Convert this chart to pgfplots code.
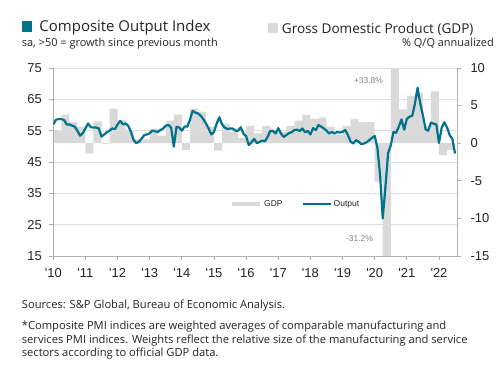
\documentclass[border=0pt]{standalone}
\usepackage{pgfplots}
\pgfplotsset{compat=1.18}
\usepackage{fontspec}
\setmainfont{Liberation Sans}
\newfontfamily\arialf{Liberation Sans}
\newfontfamily\hfont{Open Sans}
\definecolor{teal1}{RGB}{0,114,138}
\definecolor{bargray}{RGB}{217,217,217}
\definecolor{gridgray}{RGB}{222,222,222}
\definecolor{axgray}{RGB}{175,175,175}
\definecolor{txt}{RGB}{35,35,35}
\definecolor{anngray}{RGB}{130,130,130}
\begin{document}
\begin{tikzpicture}
\pgfplotsset{
  common/.style={
    at={(0pt,0pt)}, anchor=south west, width=403.7bp, height=188bp, scale only axis,
    xmin=0, xmax=150.73,
    tick align=outside, major tick length=4bp,
    every tick/.style={axgray, line width=0.8bp},
    axis line style={axgray, line width=0.8bp},
    tick label style={font=\arialf\fontsize{13}{15}\selectfont, text=txt},
    /pgf/number format/assume math mode=true,
  }
}
\begin{scope}[x=1bp,y=1bp,shift={(-53.3bp,-114bp)}]
\useasboundingbox (0,0) rectangle (500,370);
\end{scope}
% GDP (right axis)
\begin{axis}[common, ymin=-15, ymax=10, ytick={-15,-10,...,10},
  axis y line*=right, axis x line=none, xtick=\empty,
  yticklabel style={xshift=6bp}]
\addplot[ybar, bar width=3, bar shift=0pt, fill=bargray, draw=none] coordinates {
(1.5,1.6) (4.5,3.8) (7.5,2.8) (10.5,2.2)
(13.5,-1.4) (16.5,2.9) (19.5,-0.1) (22.5,4.6)
(25.5,3.1) (28.5,1.7) (31.5,0.5) (34.5,0.5)
(37.5,1.9) (40.5,1.0) (43.5,3.0) (46.5,3.8)
(49.5,-0.9) (52.5,4.6) (55.5,4.2) (58.5,2.2)
(61.5,-1.0) (64.5,2.6) (67.5,1.5) (70.5,0.7)
(73.5,2.3) (76.5,1.3) (79.5,2.3) (82.5,1.8)
(85.5,1.5) (88.5,2.3) (91.5,3.0) (94.5,3.8)
(97.5,3.2) (100.5,3.4) (103.5,2.2) (106.5,1.1)
(109.5,2.3) (112.5,3.2) (115.5,2.8) (118.5,2.8)
(121.5,-5.1) (124.5,-31.2) (127.5,33.8) (130.5,4.5)
(133.5,6.3) (136.5,6.7) (139.5,2.3) (142.5,6.9)
(145.5,-1.6) (148.5,-0.9)
};
\end{axis}
% PMI (left axis)
\begin{axis}[common, ymin=15, ymax=75, ytick={15,25,...,75},
  axis y line*=left, axis x line*=bottom,
  yticklabel style={xshift=-4bp},
  xticklabel style={yshift=-5bp},
  ymajorgrids, grid style={gridgray, line width=0.8bp},
  xtick={0,12,...,144},
  xticklabels={'10,'11,'12,'13,'14,'15,'16,'17,'18,'19,'20,'21,'22},
  legend columns=2,
  legend style={at={(0.4377,0.2766)}, anchor=west, draw=none, fill=none, inner sep=0pt,
    font=\arialf\fontsize{8.5}{10}\selectfont, text=txt,
    /tikz/every even column/.append style={column sep=17bp}},
  legend image code/.code={\draw[#1] (0bp,0bp) -- (28bp,0bp);},
]
\addlegendimage{line width=4bp, bargray}
\addlegendentry{GDP}
\addplot[teal1, line width=2.2bp, line join=round] coordinates {
(0,57.0) (1,58.5) (2,58.7) (3,58.7) (4,58.4) (5,57.0) (6,57.0) (7,56.6) (8,56.3) (9,55.0) (10,53.4) (11,54.2)
(12,55.7) (13,57.3) (14,56.1) (15,56.0) (16,56.0) (17,55.7) (18,53.1) (19,53.8) (20,54.5) (21,55.0) (22,55.7) (23,55.5)
(24,57.0) (25,58.1) (26,57.0) (27,57.3) (28,56.5) (29,54.6) (30,52.0) (31,51.0) (32,51.5) (33,52.5) (34,53.6) (35,53.8)
(36,54.2) (37,55.0) (38,54.8) (39,54.6) (40,55.2) (41,55.7) (42,56.6) (43,56.8) (44,56.0) (45,49.9) (46,56.2) (47,56.0)
(48,55.0) (49,56.3) (50,56.3) (51,58.4) (52,61.3) (53,60.8) (54,60.5) (55,59.8) (56,58.7) (57,57.3) (58,55.7) (59,53.8)
(60,54.6) (61,57.3) (62,59.3) (63,57.0) (64,56.0) (65,55.5) (66,55.7) (67,55.7) (68,55.0) (69,55.0) (70,56.1) (71,54.0)
(72,53.2) (73,50.4) (74,51.3) (75,52.4) (76,51.0) (77,51.4) (78,51.8) (79,51.6) (80,53.0) (81,54.9) (82,54.9) (83,54.1)
(84,55.8) (85,54.1) (86,53.0) (87,53.6) (88,54.2) (89,54.5) (90,55.2) (91,55.3) (92,54.9) (93,55.7) (94,54.5) (95,54.9)
(96,53.8) (97,55.8) (98,55.2) (99,56.8) (100,56.3) (101,55.7) (102,55.0) (103,54.1) (104,54.6) (105,54.1) (106,54.6) (107,54.4)
(108,54.6) (109,55.2) (110,53.6) (111,51.5) (112,50.9) (113,52.0) (114,51.5) (115,50.7) (116,50.9) (117,51.3) (118,52.0) (119,52.7)
(120,53.3) (121,49.6) (122,40.9) (123,27.0) (124,37.0) (125,47.9) (126,50.3) (127,54.6) (128,54.3) (129,56.3) (130,58.6) (131,55.3)
(132,58.7) (133,59.5) (134,59.7) (135,63.5) (136,68.7) (137,63.7) (138,59.9) (139,55.4) (140,55.0) (141,57.6) (142,57.2) (143,57.0)
(144,51.1) (145,55.9) (146,57.7) (147,56.0) (148,53.6) (149,52.3) (150,47.7)
};
\addlegendentry{Output}
\end{axis}
\begin{scope}[x=1bp,y=1bp,shift={(-53.3bp,-114bp)}]
% annotations
\node[font=\arialf\fontsize{8.5}{10}\selectfont, text=anngray] at (368.5,289) {+33.8\%};
\node[font=\arialf\fontsize{8.5}{10}\selectfont, text=anngray] at (359.5,131) {-31.2\%};
% header
\fill[teal1] (21.7,338.3) rectangle (32.3,349);
\node[anchor=base west, inner sep=0, font=\hfont\fontsize{15}{17}\selectfont, text=txt] at (39.3,339) {Composite Output Index};
\node[anchor=base west, inner sep=0, font=\hfont\fontsize{11}{13}\selectfont, text=txt] at (21.7,323.3) {sa, >50 = growth since previous month};
\fill[bargray] (267.7,336.7) rectangle (278.3,347.3);
\node[anchor=base west, inner sep=0, font=\hfont\fontsize{13.6}{16}\selectfont, text=txt] at (281.7,337) {Gross Domestic Product (GDP)};
\node[anchor=base east, inner sep=0, font=\hfont\fontsize{11}{13}\selectfont, text=txt] at (494,323.3) {\% Q/Q annualized};
% footnotes
\begin{scope}[every node/.style={anchor=base west, inner sep=0, font=\hfont\fontsize{11.2}{13}\selectfont, text=txt}]
\node at (21.7,62) {Sources: S\&P Global, Bureau of Economic Analysis.};
\node at (21.7,40.7) {*Composite PMI indices are weighted averages of comparable manufacturing and};
\node at (21.7,26.7) {services PMI indices. Weights reflect the relative size of the manufacturing and service};
\node at (21.7,13.3) {sectors according to official GDP data.};
\end{scope}
\end{scope}
\end{tikzpicture}
\end{document}
